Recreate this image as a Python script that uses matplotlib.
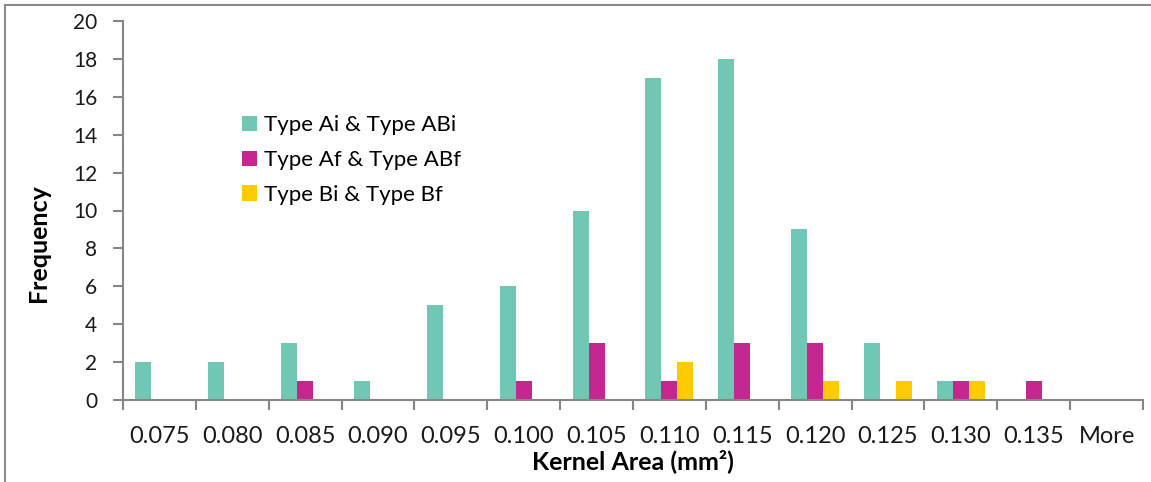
import numpy as np
import matplotlib.pyplot as plt
from matplotlib.lines import Line2D

categories = ["0.075", "0.080", "0.085", "0.090", "0.095", "0.100", "0.105",
              "0.110", "0.115", "0.120", "0.125", "0.130", "0.135", "More"]
type_ai_abi = [2, 2, 3, 1, 5, 6, 10, 17, 18, 9, 3, 1, 0, 0]
type_af_abf = [0, 0, 1, 0, 0, 1, 3, 1, 3, 3, 0, 1, 1, 0]
type_bi_bf = [0, 0, 0, 0, 0, 0, 0, 2, 0, 1, 1, 1, 0, 0]
series_labels = ["Type Ai & Type ABi", "Type Af & Type ABf", "Type Bi & Type Bf"]
yticks = [0, 2, 4, 6, 8, 10, 12, 14, 16, 18, 20]

colors = ["#70C8B4", "#C6268F", "#FFCC00"]
plt.rcParams['font.family'] = ['Lato', 'DejaVu Sans']

fig = plt.figure(figsize=(11.51, 4.82), dpi=100)
ax = fig.add_axes([123 / 1151, 1 - 400 / 482, (1143 - 123) / 1151, (400 - 21) / 482])

x = np.arange(len(categories))
w = 0.22
for i, (vals, col, lab) in enumerate(zip([type_ai_abi, type_af_abf, type_bi_bf], colors, series_labels)):
    ax.bar(x + (i - 1) * w, vals, width=w, color=col, label=lab, zorder=2)

ax.set_xlim(-0.5, len(categories) - 0.5)
ax.set_ylim(0, 20)
ax.set_yticks(yticks)
ax.set_yticklabels([str(t) for t in yticks], fontsize=15, color="#1a1a1a")

# category labels centred, tick marks on boundaries
ax.set_xticks(x)
ax.set_xticklabels(categories, fontsize=17, color="#1a1a1a")
ax.tick_params(axis='x', length=0, pad=19)
ax.set_xticks(np.arange(-0.5, len(categories)), minor=True)
ax.tick_params(axis='x', which='minor', length=7.5, width=1.5, color="#868686", direction='out')
ax.tick_params(axis='y', length=7.5, width=1.5, color="#868686", direction='out', pad=11)

for s in ['top', 'right']:
    ax.spines[s].set_visible(False)
for s in ['left', 'bottom']:
    ax.spines[s].set_color("#868686")
    ax.spines[s].set_linewidth(1.5)

ax.set_xlabel("Kernel Area (mm²)", fontsize=18, fontweight='bold', labelpad=1)
ax.set_ylabel("Frequency", fontsize=18, fontweight='bold')
ax.yaxis.set_label_coords(-0.072, 0.414)

ax.legend(loc='upper left', bbox_to_anchor=(0.117, 0.751), frameon=False, fontsize=16,
          handlelength=0.68, handleheight=0.68, handletextpad=0.3, labelspacing=0.66,
          borderaxespad=0, borderpad=0)

# outer frame (top and left edges)
fig.add_artist(Line2D([5 / 1151, 5 / 1151], [0, 1 - 5 / 482], transform=fig.transFigure,
                      color="#8c8c8c", lw=1.5))
fig.add_artist(Line2D([5 / 1151, 1], [1 - 5 / 482, 1 - 5 / 482], transform=fig.transFigure,
                      color="#8c8c8c", lw=1.5))

fig.savefig("out.png", dpi=100)
